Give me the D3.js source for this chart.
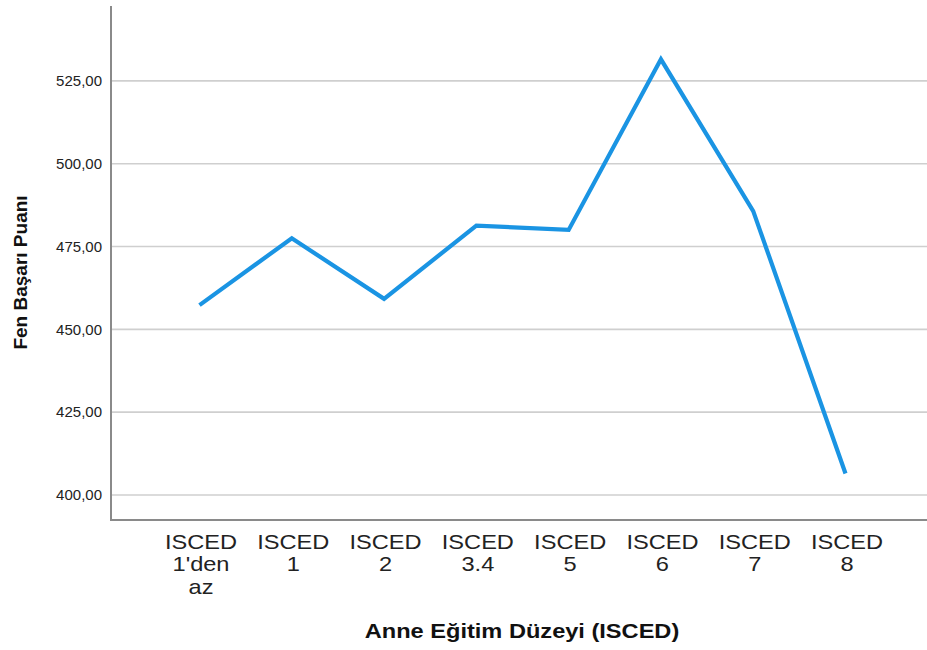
<!DOCTYPE html>
<html>
<head>
<meta charset="utf-8">
<script src="https://cdn.jsdelivr.net/npm/d3@7/dist/d3.min.js"></script>
<style>
  html, body { margin: 0; padding: 0; background: #fff; }
  svg { display: block; font-family: "Liberation Sans", Arial, sans-serif; }
</style>
</head>
<body>
<svg id="chart" width="927" height="650"></svg>
<script>
const categories = ["ISCED 1'den az", "ISCED 1", "ISCED 2", "ISCED 3.4", "ISCED 5", "ISCED 6", "ISCED 7", "ISCED 8"];
const categoryLines = [["ISCED", "1'den", "az"], ["ISCED", "1"], ["ISCED", "2"], ["ISCED", "3.4"], ["ISCED", "5"], ["ISCED", "6"], ["ISCED", "7"], ["ISCED", "8"]];
const values = [457.3, 477.5, 459.2, 481.3, 480.0, 531.5, 485.7, 406.5];
const yTicks = [400, 425, 450, 475, 500, 525];
const yTickLabels = ["400,00", "425,00", "450,00", "475,00", "500,00", "525,00"];
const xTitle = "Anne Eğitim Düzeyi (ISCED)";
const yTitle = "Fen Başarı Puanı";

const svg = d3.select("#chart");
const plotLeft = 111, plotRight = 927, plotTop = 6, plotBottom = 520;

const x = d3.scalePoint().domain(categories).range([199.5, 845.5]);
const y = d3.scaleLinear().domain([392.45, 547.6]).range([plotBottom, plotTop]);

// gridlines
svg.append("g").selectAll("line").data(yTicks).join("line")
  .attr("x1", plotLeft).attr("x2", plotRight)
  .attr("y1", d => y(d)).attr("y2", d => y(d))
  .attr("stroke", "#cfcfcf").attr("stroke-width", 1.6);

// y axis
const yAxis = d3.axisLeft(y).tickValues(yTicks)
  .tickFormat((d, i) => yTickLabels[i]).tickSize(0).tickPadding(9);
const gy = svg.append("g").attr("transform", `translate(${plotLeft},0)`).call(yAxis);
gy.select(".domain").remove();
gy.selectAll("text").attr("font-size", 15).attr("fill", "#222")
  .attr("font-family", "'Liberation Sans', Arial, sans-serif");

// x axis
const xAxis = d3.axisBottom(x).tickSize(0).tickFormat("");
const gx = svg.append("g").attr("transform", `translate(0,${plotBottom})`).call(xAxis);
gx.select(".domain").remove();
gx.selectAll(".tick").each(function(d, i) {
  const t = d3.select(this).append("text")
    .attr("fill", "#222").attr("font-size", 20)
    .attr("text-anchor", "middle")
    .attr("transform", "translate(1,0) scale(1.18,1)")
    .attr("font-family", "'Liberation Sans', Arial, sans-serif");
  categoryLines[i].forEach((line, j) => {
    t.append("tspan").attr("x", 0).attr("y", 29 + j * 22.5).text(line);
  });
});

// axis lines
svg.append("line").attr("x1", plotLeft).attr("x2", plotLeft).attr("y1", plotTop).attr("y2", plotBottom)
  .attr("stroke", "#8a8a8a").attr("stroke-width", 2);
svg.append("line").attr("x1", plotLeft - 1).attr("x2", plotRight).attr("y1", plotBottom).attr("y2", plotBottom)
  .attr("stroke", "#8a8a8a").attr("stroke-width", 2);

// line
const line = d3.line().x((d, i) => x(categories[i])).y(d => y(d));
svg.append("path").datum(values)
  .attr("d", line)
  .attr("fill", "none")
  .attr("stroke", "#1a94e3")
  .attr("stroke-width", 4.2)
  .attr("stroke-linejoin", "miter")
  .attr("stroke-linecap", "butt");

// titles
svg.append("text")
  .attr("transform", "translate(522,637.5) scale(1.18,1)")
  .attr("text-anchor", "middle").attr("font-size", 20).attr("font-weight", "bold")
  .attr("fill", "#111").text(xTitle);

svg.append("text")
  .attr("transform", "translate(27,272.5) rotate(-90)")
  .attr("text-anchor", "middle").attr("font-size", 19).attr("font-weight", "bold")
  .attr("fill", "#111").text(yTitle);
</script>
</body>
</html>
